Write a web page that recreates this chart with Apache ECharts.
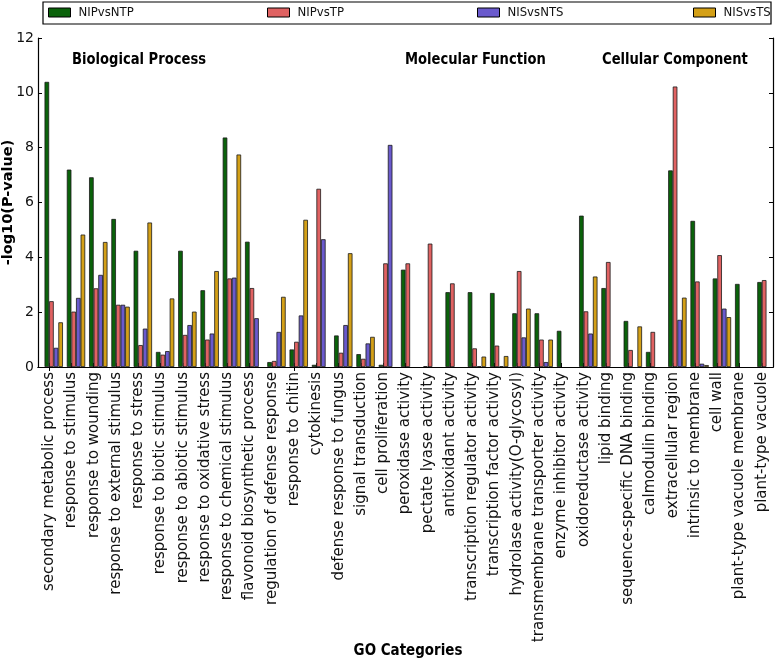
<!DOCTYPE html>
<html>
<head>
<meta charset="utf-8">
<script src="https://cdn.jsdelivr.net/npm/echarts@6/dist/echarts.min.js"></script>
<style>
html,body{margin:0;padding:0;background:#fff;}
#chart{width:780px;height:661px;}
</style>
</head>
<body>
<div id="chart"></div>
<script>
const categories = [
  'secondary metabolic process','response to stimulus','response to wounding',
  'response to external stimulus','response to stress','response to biotic stimulus',
  'response to abiotic stimulus','response to oxidative stress','response to chemical stimulus',
  'flavonoid biosynthetic process','regulation of defense response','response to chitin',
  'cytokinesis','defense response to fungus','signal transduction','cell proliferation',
  'peroxidase activity','pectate lyase activity','antioxidant activity',
  'transcription regulator activity','transcription factor activity',
  'hydrolase activity(O-glycosyl)','transmembrane transporter activity',
  'enzyme inhibitor activity','oxidoreductase activity','lipid binding',
  'sequence-specific DNA binding','calmodulin binding','extracellular region',
  'intrinsic to membrane','cell wall','plant-type vacuole membrane','plant-type vacuole'
];
const seriesNames = ['NIPvsNTP','NIPvsTP','NISvsNTS','NISvsTS'];
const NIPvsNTP = [10.4,7.2,6.92,5.4,4.24,0.55,4.24,2.8,8.37,4.57,0.18,0.64,0.08,1.15,0.47,0.08,
  3.55,0.03,2.73,2.73,2.7,1.96,1.96,1.32,5.52,2.88,1.68,0.55,7.17,5.33,3.23,3.03,3.1];
const NIPvsTP = [2.4,2.02,2.87,2.27,0.8,0.45,1.17,1.0,3.23,2.88,0.22,0.92,6.5,0.52,0.3,3.78,
  3.78,4.5,3.05,0.68,0.78,3.5,1.0,null,2.03,3.83,0.62,1.28,10.23,3.12,4.08,null,3.17];
const NISvsNTS = [0.7,2.52,3.36,2.27,1.4,0.58,1.53,1.22,3.26,1.78,1.28,1.88,4.66,1.53,0.86,8.1,
  null,null,null,0.03,0.03,1.08,0.18,null,1.22,null,null,null,1.72,0.12,2.13,null,null];
const NISvsTS = [1.63,4.83,4.56,2.2,5.27,2.5,2.02,3.5,7.75,null,2.56,5.37,null,4.15,1.1,null,
  null,null,null,0.38,0.4,2.13,1.0,null,3.3,null,1.48,null,2.53,0.07,1.82,null,null];
const yMin = 0, yMax = 12, yStep = 2;
const sectionTitles = ['Biological Process','Molecular Function','Cellular Component'];
const xName = 'GO Categories';
const yName = '-log10(P-value)';

const colors = ['#0a620a','#e06262','#6a5acd','#d4a017'];
const values = [NIPvsNTP, NIPvsTP, NISvsNTS, NISvsTS];
const FONT = "'DejaVu Sans', sans-serif";
const barW = 4.6;

const chart = echarts.init(document.getElementById('chart'), null, {renderer:'canvas'});

const series = [];
// two empty placeholder series shift each group to the right of its tick, as in the original
for (let k = 0; k < 2; k++) {
  series.push({type:'bar', data:[], barWidth:barW, barGap:'0%', silent:true});
}
values.forEach((v, i) => {
  series.push({
    name: seriesNames[i], type:'bar', data:v, barWidth:barW, barGap:'0%',
    itemStyle:{color:colors[i], borderColor:'#1a1a1a', borderWidth:0.8},
    emphasis:{disabled:true}
  });
});

const legendLefts = [48, 267, 477, 693];
const legends = seriesNames.map((n, i) => ({
  data:[n], left:legendLefts[i], top:6, padding:0, z:10,
  icon:'rect', itemWidth:22, itemHeight:9, selectedMode:false,
  itemStyle:{borderColor:'#000', borderWidth:1},
  textStyle:{fontFamily:"'DejaVu Sans Condensed', 'DejaVu Sans', sans-serif", fontSize:13, color:'#111', padding:[0,0,0,3]}
}));

const titleLefts = [72, 405, 602];
const graphics = [
  {type:'rect', z:0, shape:{x:43, y:2, width:728, height:22},
   style:{fill:'#fff', stroke:'#000', lineWidth:1.2}},
  {type:'text', x:408, y:651, scaleX:0.84, z:5,
   style:{text:xName, fontFamily:FONT, fontSize:16, fontWeight:'bold', fill:'#000', align:'center', verticalAlign:'middle'}}
];
sectionTitles.forEach((t, i) => {
  graphics.push({type:'text', x:titleLefts[i], y:60, scaleX:0.82, z:5,
    style:{text:t, fontFamily:FONT, fontSize:16, fontWeight:'bold', fill:'#000', verticalAlign:'middle'}});
});

const option = {
  animation:false,
  backgroundColor:'#fff',
  grid:{left:38, right:7, top:38, bottom:294, containLabel:false, outerBoundsMode:'none'},
  legend: legends,
  graphic: graphics,
  xAxis:[
    {type:'category', data:categories, position:'bottom',
     axisLine:{show:true, lineStyle:{color:'#000', width:1.2}},
     axisTick:{show:true, inside:true, alignWithLabel:true, length:4, lineStyle:{color:'#000'}},
     axisLabel:{interval:0, rotate:90, fontFamily:FONT, fontSize:15, color:'#111', margin:5},
     splitLine:{show:false}},
    {type:'category', data:categories, position:'top',
     axisLine:{show:true, lineStyle:{color:'#000', width:1.2}},
     axisTick:{show:true, inside:true, alignWithLabel:true, length:4, lineStyle:{color:'#000'}},
     axisLabel:{show:false}, splitLine:{show:false}}
  ],
  yAxis:[
    {type:'value', min:yMin, max:yMax, interval:yStep, position:'left',
     name:yName, nameLocation:'middle', nameGap:22, nameMoveOverlap:false,
     nameTextStyle:{fontFamily:FONT, fontSize:14.5, fontWeight:'bold', color:'#000'},
     axisLine:{show:true, lineStyle:{color:'#000', width:1.2}},
     axisTick:{show:true, inside:true, length:4, lineStyle:{color:'#000'}},
     axisLabel:{fontFamily:FONT, fontSize:14, color:'#111', margin:4},
     splitLine:{show:false}},
    {type:'value', min:yMin, max:yMax, interval:yStep, position:'right',
     axisLine:{show:true, lineStyle:{color:'#000', width:1.2}},
     axisTick:{show:true, inside:true, length:4, lineStyle:{color:'#000'}},
     axisLabel:{show:false}, splitLine:{show:false}}
  ],
  series: series
};
chart.setOption(option);
</script>
</body>
</html>
